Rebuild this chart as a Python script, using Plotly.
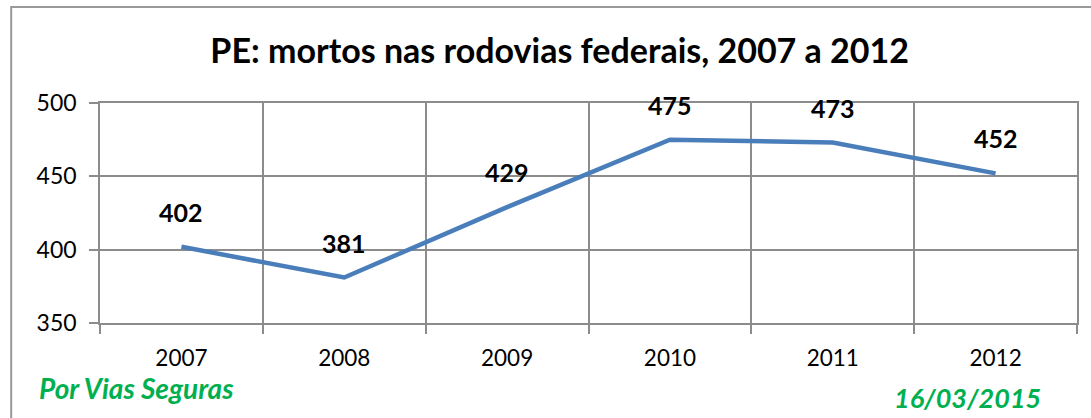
import plotly.graph_objects as go

years = ["2007", "2008", "2009", "2010", "2011", "2012"]
mortos = [402, 381, 429, 475, 473, 452]
y_ticks = [350, 400, 450, 500]

title_text = "PE: mortos nas rodovias federais, 2007 a 2012"
source_text = "Por Vias Seguras"
date_text = "16/03/2015"

FONT = "Lato, 'Open Sans', sans-serif"
GRID = "#8c8c8c"
LINE = "#4a7ebb"
GREEN = "#00b050"

xs = list(range(len(years)))

fig = go.Figure()
fig.add_trace(go.Scatter(
    x=xs, y=mortos, mode="lines",
    line=dict(color=LINE, width=4.5),
    hoverinfo="skip", showlegend=False,
))

for xi, v in zip(xs, mortos):
    fig.add_annotation(
        x=xi, y=v, text=f"<b>{v}</b>", showarrow=False,
        yshift=35, font=dict(family=FONT, size=25, color="black"),
    )

fig.update_layout(
    width=1091, height=418,
    margin=dict(l=100, r=12, t=103, b=95),
    paper_bgcolor="white", plot_bgcolor="white",
    title=dict(text=f"<b>{title_text}</b>", x=0.513, xanchor="center",
               y=1 - 51 / 418, yanchor="middle",
               font=dict(family=FONT, size=34, color="black")),
    xaxis=dict(
        range=[-0.5, len(years) - 0.5],
        tickvals=xs, ticktext=years, ticks="", showgrid=False,
        zeroline=False, showline=True, linecolor=GRID, linewidth=1.5,
        mirror=True, ticklabelstandoff=14,
        tickfont=dict(family=FONT, size=22.5, color="black"),
        minor=dict(tickvals=[i - 0.5 for i in range(len(years) + 1)],
                   showgrid=True, gridcolor=GRID, gridwidth=1.5,
                   ticks="outside", ticklen=9, tickcolor=GRID, tickwidth=1.5),
        fixedrange=True,
    ),
    yaxis=dict(
        range=[350, 500], tickvals=y_ticks,
        showgrid=True, gridcolor=GRID, gridwidth=1.5,
        ticks="outside", ticklen=9, tickcolor=GRID, tickwidth=1.5,
        showline=True, linecolor=GRID, linewidth=1.5, mirror=True,
        zeroline=False, ticklabelstandoff=8,
        tickfont=dict(family=FONT, size=23, color="black"),
        fixedrange=True,
    ),
)

# chart outer border
fig.add_shape(type="rect", xref="paper", yref="paper",
              x0=-89 / 979, x1=1.05, y0=-0.5, y1=1 + 96 / 220,
              line=dict(color="#999999", width=2), layer="below")

fig.add_annotation(xref="paper", yref="paper", x=-63 / 979, y=-65 / 220,
                   xanchor="left", yanchor="middle", showarrow=False,
                   text=f"<b><i>{source_text}</i></b>",
                   font=dict(family=FONT, size=28, color=GREEN))
fig.add_annotation(xref="paper", yref="paper", x=(1045 - 100) / 979, y=-74 / 220,
                   xanchor="right", yanchor="middle", showarrow=False,
                   text=f"<b><i>{date_text}</i></b>",
                   font=dict(family=FONT, size=27, color=GREEN))

fig.write_html("out.html")
